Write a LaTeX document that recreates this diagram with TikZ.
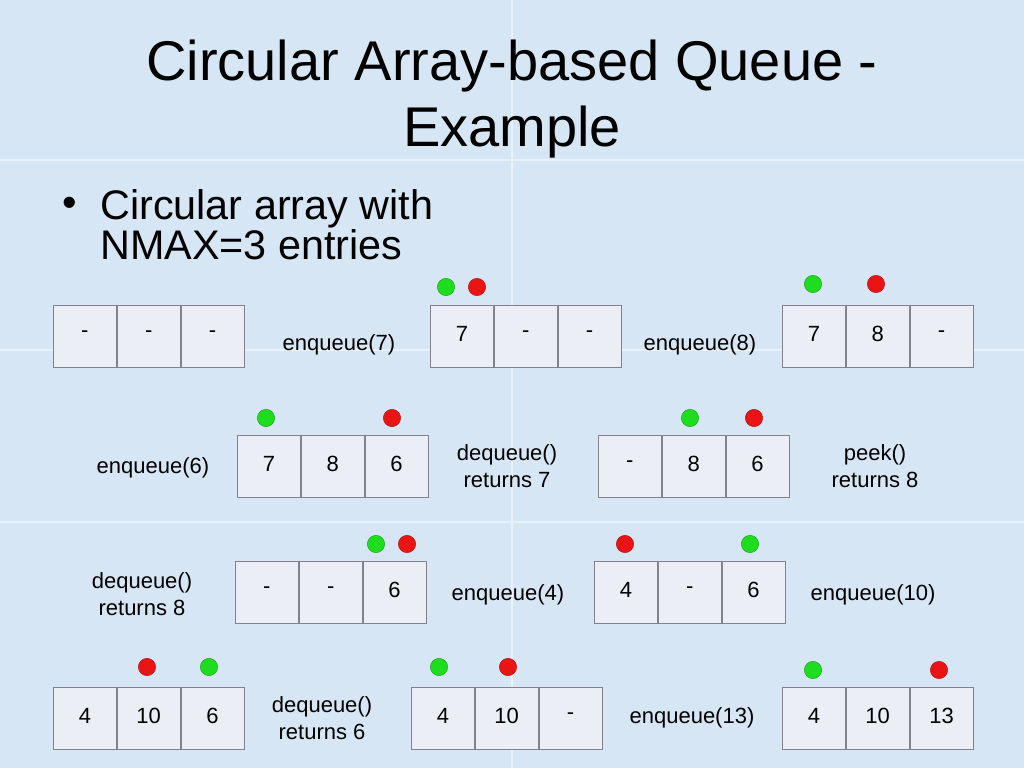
\documentclass[tikz,border=0pt]{standalone}
\usepackage{fontspec}
\setmainfont{Liberation Sans}
\definecolor{bg}{RGB}{214,230,244}
\definecolor{cellfill}{RGB}{236,238,246}
\definecolor{cellline}{RGB}{130,130,140}
\definecolor{gdot}{RGB}{30,220,30}
\definecolor{rdot}{RGB}{235,20,20}
\tikzset{
 cellbox/.style={draw=cellline,fill=cellfill,line width=0.6pt,minimum width=47.25pt,minimum height=46.5pt,inner sep=0pt,font=\fontsize{16.5}{19}\selectfont,anchor=north west},
 lbl/.style={font=\fontsize{16.5}{20}\selectfont,align=center,inner sep=0pt},
 gd/.style={circle,fill=gdot,draw=gdot!70!black,line width=0.3pt,minimum size=13pt,inner sep=0pt},
 rd/.style={circle,fill=rdot,draw=rdot!70!black,line width=0.3pt,minimum size=13pt,inner sep=0pt}
}
\newcommand{\arr}[5]{% name, x, y, a, b, c
 \node[cellbox] (#1a) at (#2,#3) {\raisebox{4pt}{#4}};
 \node[cellbox,anchor=north west] (#1b) at (#1a.north east) {\raisebox{4pt}{#5}};
}
\newcommand{\arrc}[2]{\node[cellbox,anchor=north west] (#1c) at (#1b.north east) {\raisebox{4pt}{#2}};}
\begin{document}
\begin{tikzpicture}[x=0.75pt,y=-0.75pt]
\fill[bg] (0,0) rectangle (1024,768);
\useasboundingbox (0,0) rectangle (1024,768);
\draw[white,opacity=0.5,line width=0.8pt] (0,160)--(1024,160) (0,350)--(1024,350) (0,522)--(1024,522) (512,0)--(512,768);
\node[font=\fontsize{42}{50}\selectfont,align=center] (title) at (512,99) {Circular Array-based Queue -\\Example};
\node[font=\fontsize{31}{30}\selectfont,anchor=west] (bul) at (58,207) {•};
\node[font=\fontsize{31}{30}\selectfont,align=left,anchor=north west,inner sep=0pt] (btxt) at (100,189) {Circular array with\\NMAX=3 entries};
% row 1
\arr{A}{53}{305}{-}{-}\arrc{A}{-}
\arr{B}{430}{305}{7}{-}\arrc{B}{-}
\arr{C}{782}{305}{7}{8}\arrc{C}{-}
\node[gd] (Bg) at (446,287) {}; \node[rd] (Br) at (477,287) {};
\node[gd] (Cg) at (813,284) {}; \node[rd] (Cr) at (876,284) {};
\node[lbl] (l1) at (339,345) {enqueue(7)};
\node[lbl] (l2) at (700,345) {enqueue(8)};
% row 2
\arr{D}{237}{435}{7}{8}\arrc{D}{6}
\arr{E}{598}{435}{-}{8}\arrc{E}{6}
\node[gd] (Dg) at (266,418) {}; \node[rd] (Dr) at (392,418) {};
\node[gd] (Eg) at (690,418) {}; \node[rd] (Er) at (754,418) {};
\node[lbl] (l3) at (153,468) {enqueue(6)};
\node[lbl] (l4) at (507,466) {dequeue()\\returns 7};
\node[lbl] (l5) at (875,466) {peek()\\returns 8};
% row 3
\arr{F}{235}{561}{-}{-}\arrc{F}{6}
\arr{G}{594}{561}{4}{-}\arrc{G}{6}
\node[gd] (Fg) at (376,544) {}; \node[rd] (Fr) at (407,544) {};
\node[rd] (Gr) at (625,544) {}; \node[gd] (Gg) at (750,544) {};
\node[lbl] (l6) at (142,594) {dequeue()\\returns 8};
\node[lbl] (l7) at (508,595) {enqueue(4)};
\node[lbl] (l8) at (873,595) {enqueue(10)};
% row 4
\arr{H}{53}{687}{4}{10}\arrc{H}{6}
\arr{I}{411}{687}{4}{10}\arrc{I}{-}
\arr{J}{782}{687}{4}{10}\arrc{J}{13}
\node[rd] (Hr) at (147,667) {}; \node[gd] (Hg) at (209,667) {};
\node[gd] (Ig) at (439,667) {}; \node[rd] (Ir) at (508,667) {};
\node[gd] (Jg) at (813,670) {}; \node[rd] (Jr) at (939,670) {};
\node[lbl] (l9) at (322,718) {dequeue()\\returns 6};
\node[lbl] (l10) at (692,718) {enqueue(13)};
\end{tikzpicture}
\end{document}
